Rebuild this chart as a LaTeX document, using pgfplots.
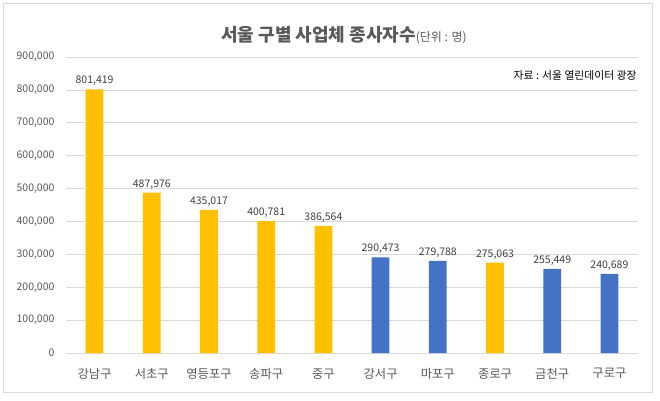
\documentclass[border=0pt]{standalone}
\usepackage{pgfplots}
\pgfplotsset{compat=1.18}
\usepackage{fontspec}
\setmainfont{Noto Sans CJK KR}
\definecolor{gold}{HTML}{FFC000}
\definecolor{blu}{HTML}{4472C4}
\definecolor{txt}{HTML}{595959}
\definecolor{grd}{HTML}{D9D9D9}
\begin{document}
\begin{tikzpicture}[x=1bp,y=1bp]
\path[fill=white] (0,0) rectangle (660,400);
\draw[draw=grd, fill=white] (3,8) rectangle (652,397);
\begin{axis}[
  at={(66bp,47bp)}, anchor=south west,
  scale only axis, width=572bp, height=296bp,
  xmin=-0.5, xmax=9.5, ymin=0, ymax=900000,
  ytick={0,100000,...,900000},
  xtick={0,...,9},
  xticklabels={강남구,서초구,영등포구,송파구,중구,강서구,마포구,종로구,금천구,구로구},
  scaled y ticks=false,
  /pgf/number format/.cd, fixed, 1000 sep={,}, assume math mode=true, /pgfplots/.cd,
  ymajorgrids, grid style={draw=grd, line width=0.75bp},
  axis y line*=left, axis x line*=bottom,
  y axis line style={draw=none},
  x axis line style={draw=grd, line width=0.75bp},
  major tick length=0pt,
  tick style={draw=none},
  yticklabel style={font=\fontsize{10.5bp}{12bp}\selectfont, text=txt, xshift=-8bp},
  xticklabel style={font=\fontsize{12.3bp}{14bp}\selectfont, text=txt, yshift=-12bp},
  ybar, bar width=0.31, bar shift=0pt,
  nodes near coords,
  nodes near coords style={font=\fontsize{10.5bp}{12bp}\selectfont, text=black!75, /pgf/number format/fixed, /pgf/number format/1000 sep={,}},
  clip=false,
]
\addplot[fill=gold, draw=none] coordinates {(0,801419) (1,487976) (2,435017) (3,400781) (4,386564) (7,275063)};
\addplot[fill=blu, draw=none] coordinates {(5,290473) (6,279788) (8,255449) (9,240689)};
\end{axis}
\node[text=txt, font=\fontsize{18bp}{20bp}\selectfont\bfseries] at (344bp,365bp) {서울 구별 사업체 종사자수{\fontsize{12bp}{13bp}\selectfont\mdseries(단위 : 명)}};
\node[anchor=east, text=black, font=\fontsize{10.8bp}{12bp}\selectfont] at (640bp,325bp) {자료 : 서울 열린데이터 광장};
\end{tikzpicture}
\end{document}
